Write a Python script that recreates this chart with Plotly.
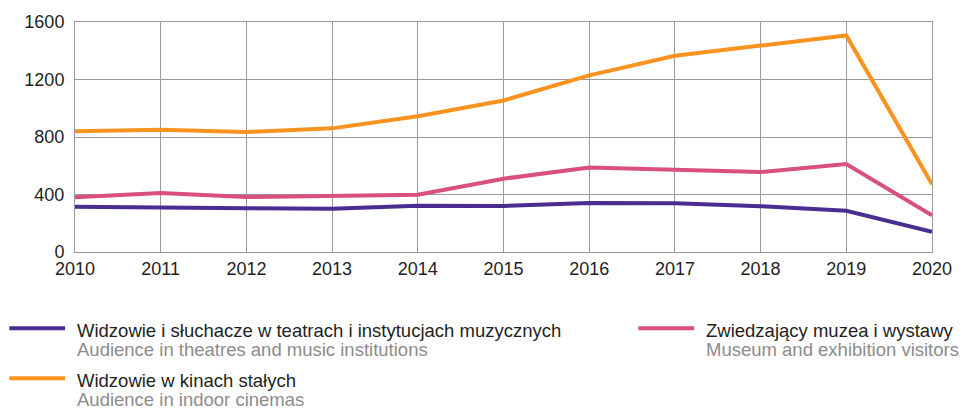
import plotly.graph_objects as go

years = list(range(2010, 2021))
theatres = [314, 313, 305, 300, 321, 320, 341, 339, 319, 287, 141]
museums = [380, 410, 382, 392, 399, 510, 587, 573, 556, 612, 255]
cinemas = [840, 851, 835, 860, 945, 1054, 1229, 1365, 1436, 1506, 471]

names_pl = ["Widzowie i słuchacze w teatrach i instytucjach muzycznych",
            "Zwiedzający muzea i wystawy",
            "Widzowie w kinach stałych"]
names_en = ["Audience in theatres and music institutions",
            "Museum and exhibition visitors",
            "Audience in indoor cinemas"]
colors = ["#4b2c91", "#d9507f", "#f7931e"]
series = [theatres, museums, cinemas]

W, H = 964, 408
L, R, T, B = 75, 28, 17, 156
pw, ph = W - L - R, H - T - B

def px_x(x):
    return (x - L) / pw

def px_y(y):
    return (H - B - y) / ph

FONT = "Liberation Sans, Arial, sans-serif"

fig = go.Figure()
for vals, col, n in zip(series, colors, names_pl):
    fig.add_trace(go.Scatter(x=years, y=vals, mode="lines", name=n,
                             line=dict(color=col, width=4), showlegend=False))

# legend (manual)
legend_pos = [(9, 330), (641, 330), (9, 381)]
for (lx, ly), col, pl, en in zip(legend_pos, colors, names_pl, names_en):
    fig.add_shape(type="line", xref="paper", yref="paper",
                  x0=px_x(lx), x1=px_x(lx + 56), y0=px_y(ly), y1=px_y(ly),
                  line=dict(color=col, width=4))
    fig.add_annotation(xref="paper", yref="paper", x=px_x(lx + 66), y=px_y(ly + 2.5),
                       text=pl, showarrow=False, xanchor="left", yanchor="middle",
                       font=dict(family=FONT, size=18.5, color="#231f20"))
    fig.add_annotation(xref="paper", yref="paper", x=px_x(lx + 66), y=px_y(ly + 22),
                       text=en, showarrow=False, xanchor="left", yanchor="middle",
                       font=dict(family=FONT, size=18.5, color="#8c8c8c"))

fig.update_layout(
    width=W, height=H,
    margin=dict(l=L, r=R, t=T, b=B),
    paper_bgcolor="white", plot_bgcolor="white",
    font=dict(family=FONT, size=18, color="#231f20"),
)
fig.update_xaxes(range=[2010, 2020], tickvals=years, showgrid=True,
                 gridcolor="#9a9a9a", gridwidth=1, showline=True, linecolor="#9a9a9a",
                 mirror=True, zeroline=False, ticks="", tickfont=dict(size=18))
fig.update_yaxes(range=[0, 1600], dtick=400, showgrid=True,
                 gridcolor="#9a9a9a", gridwidth=1, showline=True, linecolor="#9a9a9a",
                 mirror=True, zeroline=False, ticks="", ticklabelstandoff=6,
                 tickfont=dict(size=18))

fig.write_html("out.html", config={"displayModeBar": False},
               post_script="document.body.style.margin='0';document.body.style.padding='0';")
